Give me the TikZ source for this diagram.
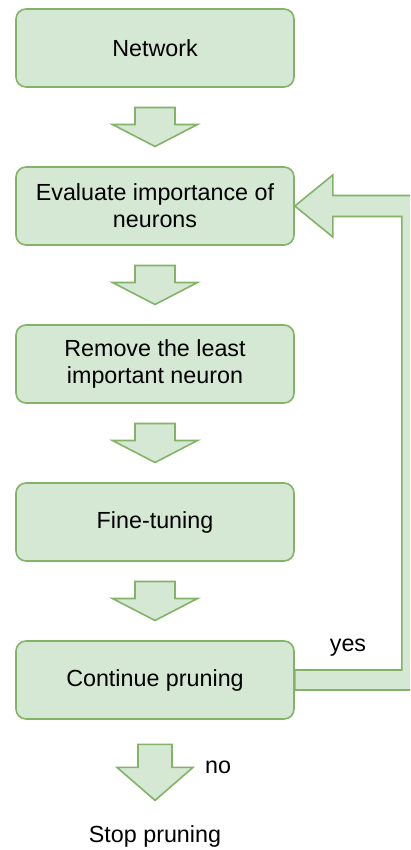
\documentclass[tikz,border=0pt]{standalone}
\usepackage{fontspec}
\setmainfont{Liberation Sans}
\usetikzlibrary{positioning,calc}

\definecolor{boxfill}{HTML}{D5E8D4}
\definecolor{boxline}{HTML}{82B366}

\tikzset{
  stage/.style={draw=boxline, fill=boxfill, line width=1.6pt, rounded corners=10pt,
    minimum width=278pt, minimum height=78pt, align=center, inner sep=2pt,
    font=\fontsize{23.3}{27}\selectfont},
  plain/.style={inner sep=0pt, font=\fontsize{23.3}{27}\selectfont},
  blockarrow/.style={draw=boxline, fill=boxfill, line width=1.6pt, line join=miter}
}

% block arrow pointing down, halfway between two anchors
% #3 shaft half width, #4 head half width, #5 half length, #6 head length
\newcommand{\blockdown}[6]{%
  \coordinate (mid) at ($(#1)!0.5!(#2)$);
  \draw[blockarrow] ($(mid)+(-#3,-#5)$) -- ($(mid)+(#3,-#5)$) -- ($(mid)+(#3,#5-#6)$)
    -- ($(mid)+(#4,#5-#6)$) -- ($(mid)+(0,#5)$) -- ($(mid)+(-#4,#5-#6)$)
    -- ($(mid)+(-#3,#5-#6)$) -- cycle;}

\begin{document}
\begin{tikzpicture}[x=1pt,y=-1pt]
    \useasboundingbox (0,0) rectangle (410,850);
    \clip (0,0) rectangle (410,850);

    \node[stage] (net) at (155,48) {Network};
    \node[stage, below=78.4pt of net] (eval) {Evaluate importance of\\neurons};
    \node[stage, below=78.4pt of eval] (remove) {Remove the least\\important neuron};
    \node[stage, below=78.4pt of remove] (tune) {Fine-tuning};
    \node[stage, below=78.4pt of tune] (cont) {Continue pruning};
    \node[plain] (stop) at (155,836) {Stop pruning};

    \blockdown{net.south}{eval.north}{20}{42.5}{19.5}{22}
    \blockdown{eval.south}{remove.north}{20}{42.5}{19.5}{22}
    \blockdown{remove.south}{tune.north}{20}{42.5}{19.5}{22}
    \blockdown{tune.south}{cont.north}{20}{42.5}{19.5}{22}
    \blockdown{cont.south}{stop.north}{17}{38}{28}{33}
    \node[plain] (no) at (218,767) {no};

    % loop back to the evaluation step
    \draw[blockarrow] (eval.east) -- ($(eval.east)+(38,-31)$) -- ($(eval.east)+(38,-10.5)$)
      -- ($(eval.east)+(128,-10.5)$) -- ($(cont.east)+(128,10)$) -- ($(cont.east)+(0,10)$)
      -- ($(cont.east)+(0,-10)$) -- ($(cont.east)+(107,-10)$) -- ($(eval.east)+(107,10.5)$)
      -- ($(eval.east)+(38,10.5)$) -- ($(eval.east)+(38,31)$) -- cycle;
    \node[plain] (yes) at (348,648) {yes};
\end{tikzpicture}
\end{document}
